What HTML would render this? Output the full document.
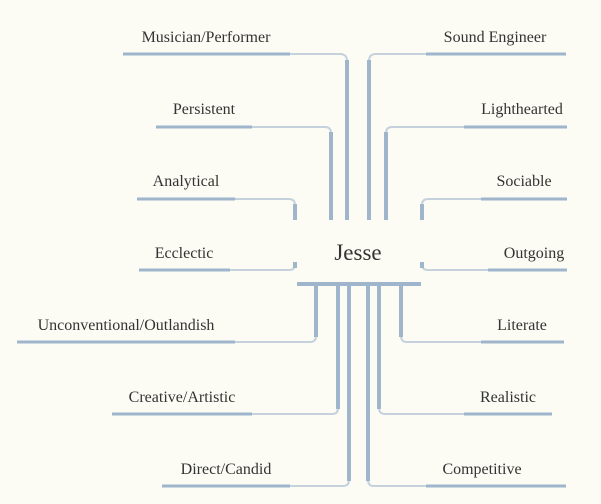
<!DOCTYPE html>
<html><head><style>
html,body{margin:0;padding:0;background:#fcfcf5;}
svg{display:block}
text{font-family:"Liberation Serif",serif;font-size:16px;fill:#333;text-anchor:middle}
</style></head><body>
<svg width="601" height="504" viewBox="0 0 601 504">
<rect width="601" height="504" fill="#fcfcf5"/>
<g fill="none" stroke-linecap="butt">
<g stroke="#c5d2de" stroke-width="2">
<path d="M290 54 H340 Q347 54 347 61"/>
<path d="M252 127 H325 Q331 127 331 133"/>
<path d="M235 199 H289 Q295 199 295 205"/>
<path d="M230 270 H289 Q295 270 295 264"/>
<path d="M426 54 H376 Q369 54 369 61"/>
<path d="M464 127 H392 Q386 127 386 133"/>
<path d="M481 199 H428 Q422 199 422 205"/>
<path d="M488 270 H428 Q422 270 422 264"/>
<path d="M235 342 H310 Q316 342 316 336"/>
<path d="M252 414 H332 Q338 414 338 408"/>
<path d="M290 486 H343 Q349 486 349 480"/>
<path d="M481 342 H407 Q401 342 401 336"/>
<path d="M464 414 H385 Q379 414 379 408"/>
<path d="M426 486 H374 Q368 486 368 480"/>
</g>
<g stroke="#9fb5cb" stroke-width="4">
<path d="M347 60 V220"/>
<path d="M331 132 V220"/>
<path d="M295 204 V220"/>
<path d="M295 262 V268"/>
<path d="M369 60 V220"/>
<path d="M386 132 V220"/>
<path d="M422 204 V220"/>
<path d="M422 262 V268"/>
<path d="M316 284 V337"/>
<path d="M338 284 V409"/>
<path d="M349 284 V481"/>
<path d="M401 284 V337"/>
<path d="M379 284 V409"/>
<path d="M368 284 V481"/>
<path d="M297 284 H421"/>
</g>
<g stroke="#9fb5cb" stroke-width="3">
<path d="M123 54 H290"/>
<path d="M156 127 H252"/>
<path d="M137 199 H235"/>
<path d="M139 270 H230"/>
<path d="M426 54 H566"/>
<path d="M464 127 H567"/>
<path d="M481 199 H567"/>
<path d="M488 270 H567"/>
<path d="M17 342 H235"/>
<path d="M112 414 H252"/>
<path d="M162 486 H290"/>
<path d="M481 342 H564"/>
<path d="M464 414 H552"/>
<path d="M426 486 H566"/>
</g>
</g>
<text x="206" y="42">Musician/Performer</text>
<text x="204" y="114">Persistent</text>
<text x="186" y="186">Analytical</text>
<text x="184" y="258">Ecclectic</text>
<text x="495" y="42">Sound Engineer</text>
<text x="522" y="114">Lighthearted</text>
<text x="524" y="186">Sociable</text>
<text x="534" y="258">Outgoing</text>
<text x="126" y="330">Unconventional/Outlandish</text>
<text x="182" y="402">Creative/Artistic</text>
<text x="226" y="474">Direct/Candid</text>
<text x="522" y="330">Literate</text>
<text x="508" y="402">Realistic</text>
<text x="482" y="474">Competitive</text>
<text x="358" y="260" style="font-size:23px">Jesse</text>
</svg>
</body></html>
